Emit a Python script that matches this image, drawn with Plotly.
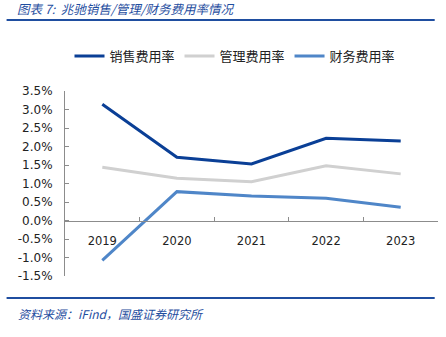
import plotly.graph_objects as go

years = ["2019", "2020", "2021", "2022", "2023"]
sales_rate = [3.14, 1.71, 1.53, 2.22, 2.15]
admin_rate = [1.44, 1.14, 1.05, 1.48, 1.26]
fin_rate = [-1.08, 0.78, 0.66, 0.60, 0.36]
series_names = ["销售费用率", "管理费用率", "财务费用率"]
y_ticks = [-1.5, -1.0, -0.5, 0.0, 0.5, 1.0, 1.5, 2.0, 2.5, 3.0, 3.5]

colors = ["#0a3f96", "#d0d0d0", "#4f86c8"]
W, H = 446, 337
L, R, T, B = 65.4, 7.7, 91, 61
pw, ph = W - L - R, H - T - B

def px(x):
    return (x - L) / pw

def py(y):
    return (H - B - y) / ph

fig = go.Figure()
for name, vals, c in zip(series_names, [sales_rate, admin_rate, fin_rate], colors):
    fig.add_trace(go.Scatter(x=years, y=vals, mode="lines", name=name,
                             line=dict(color=c, width=3)))

blue = "#1f4ea0"
fig.update_layout(
    width=W, height=H,
    margin=dict(l=L, r=R, t=T, b=B, pad=0),
    paper_bgcolor="white", plot_bgcolor="white",
    font=dict(family="DejaVu Sans", size=12, color="#222"),
    showlegend=True,
    legend=dict(orientation="h", xref="container", yref="container",
                x=235 / W, xanchor="center", y=1 - 56 / H, yanchor="middle",
                font=dict(family="Noto Sans CJK SC", size=13, color="#222"),
                itemwidth=30, tracegroupgap=0, bgcolor="rgba(0,0,0,0)"),
    xaxis=dict(type="category", range=[-0.5, 4.5], anchor="free", position=0.3,
               showline=True, linecolor="#8c8c8c", linewidth=1,
               ticks="inside", tickson="boundaries", ticklen=4, tickcolor="#8c8c8c",
               showgrid=False, zeroline=False, ticklabelstandoff=10,
               tickfont=dict(family="DejaVu Sans", size=11.5, color="#222")),
    yaxis=dict(range=[-1.5, 3.5], tickvals=y_ticks,
               ticktext=[f"{v:.1f}%" for v in y_ticks],
               showline=True, linecolor="#8c8c8c", linewidth=1,
               ticks="inside", ticklen=4, tickcolor="#8c8c8c",
               showgrid=False, zeroline=False, ticklabelstandoff=9,
               tickfont=dict(family="DejaVu Sans", size=12, color="#222")),
    shapes=[
        dict(type="line", xref="paper", yref="paper", x0=px(7), x1=px(435),
             y0=py(20), y1=py(20), line=dict(color=blue, width=2)),
        dict(type="line", xref="paper", yref="paper", x0=px(7), x1=px(435),
             y0=py(298), y1=py(298), line=dict(color=blue, width=2)),
    ],
    annotations=[
        dict(text="<i>图表 7:  兆驰销售/管理/财务费用率情况</i>", xref="paper", yref="paper",
             x=px(15), y=py(8.5), xanchor="left", yanchor="middle", showarrow=False,
             font=dict(family="Noto Sans CJK SC", size=12.5, color=blue)),
        dict(text="<i>资料来源：iFind，国盛证券研究所</i>", xref="paper", yref="paper",
             x=px(16), y=py(313), xanchor="left", yanchor="middle", showarrow=False,
             font=dict(family="Noto Sans CJK SC", size=12, color=blue)),
    ],
)
fig.write_html("out.html")
